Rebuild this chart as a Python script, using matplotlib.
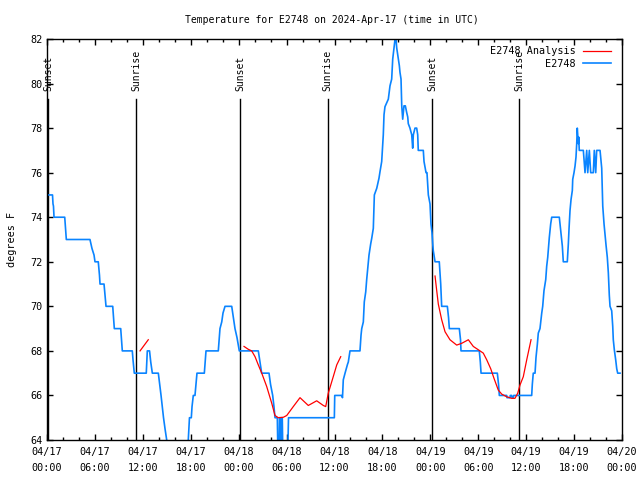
import datetime as dt
import numpy as np
import matplotlib
matplotlib.use("Agg")
import matplotlib.pyplot as plt
import matplotlib.dates as mdates

start = dt.datetime(2024, 4, 17)

# station readings (hours after 04/17 00:00 UTC, degrees F)
obs_hours = [0.13, 0.69, 0.75, 0.81, 0.88, 2.22, 2.32, 2.42, 5.38, 5.51, 5.63, 5.89, 6.01,
             6.42, 6.57, 6.64, 7.14, 7.26, 7.39, 8.23, 8.33, 8.43, 9.23, 9.33, 9.43, 10.68,
             10.77, 10.93, 12.43, 12.56, 12.84, 12.99, 13.19, 13.94, 14.15, 14.28, 14.46,
             14.59, 14.78, 14.99, 15.40, 16.28, 17.16, 17.69, 17.84, 18.07, 18.16, 18.32,
             18.53, 18.78, 19.70, 19.91, 21.45, 21.66, 21.88, 22.04, 22.29, 23.13, 23.33,
             23.54, 23.79, 24.08, 26.46, 26.67, 26.88, 27.80, 27.99, 28.26, 28.42, 28.55,
             28.84, 28.93, 29.05, 29.11, 29.21, 29.30, 29.36, 29.46, 29.55, 30.12, 30.24,
             35.98, 36.03, 36.90, 37.00, 37.10, 37.32, 37.63, 37.73, 37.94, 39.19, 39.32,
             39.41, 39.61, 39.73, 39.91, 40.03, 40.32, 40.53, 40.66, 40.86, 40.99, 41.29,
             41.57, 41.70, 41.91, 42.11, 42.20, 42.32, 42.74, 42.95, 43.16, 43.29, 43.45,
             43.58, 43.70, 43.79, 43.99, 44.12, 44.20, 44.33, 44.42, 44.54, 44.70, 44.87,
             45.04, 45.17, 45.24, 45.45, 45.67, 45.79, 45.87, 46.08, 46.29, 46.42, 46.49,
             47.12, 47.21, 47.46, 47.58, 47.75, 47.96, 48.08, 48.21, 48.30, 48.37, 48.59,
             49.12, 49.30, 49.42, 50.13, 50.28, 50.38, 51.63, 51.78, 51.84, 54.13, 54.26,
             54.35, 56.39, 56.54, 56.64, 57.56, 57.60, 57.98, 58.01, 58.19, 58.23, 58.39,
             58.44, 60.69, 60.77, 60.89, 61.11, 61.23, 61.40, 61.52, 61.73, 61.95, 62.07,
             62.23, 62.45, 62.57, 62.70, 62.90, 63.07, 63.20, 64.15, 64.24, 64.40, 64.53,
             64.65, 65.15, 65.28, 65.37, 65.49, 65.62, 65.78, 65.83, 65.99, 66.12, 66.24,
             66.33, 66.40, 66.53, 66.58, 66.65, 67.16, 67.37, 67.58, 67.71, 67.91, 68.08,
             68.41, 68.53, 68.71, 68.83, 69.25, 69.46, 69.59, 69.75, 70.00, 70.16, 70.29,
             70.41, 70.50, 70.71, 70.84, 70.91, 71.04, 71.21, 71.34, 71.46, 71.75]
obs_temp = [75, 75, 74.6, 74.5, 74, 74, 73.5, 73, 73, 72.8, 72.6, 72.3, 72,
            72, 71.4, 71, 71, 70.5, 70, 70, 69.5, 69, 69, 68.5, 68, 68,
            67.6, 67, 67, 68, 68, 67.5, 67, 67, 66.4, 66, 65.4,
            65, 64.5, 64, 63.4, 63, 63.4, 64, 65, 65, 65.5, 66,
            66, 67, 67, 68, 68, 69, 69.3, 69.7, 70, 70, 69.5,
            69, 68.6, 68, 68, 67.5, 67, 67, 66.5, 66, 65.5, 65,
            65, 63, 63, 65, 65, 63, 65, 65, 63, 63, 65,
            65, 66, 66, 65.9, 66.7, 67, 67.4, 67.5, 68, 68, 68.7,
            69, 69.3, 70.2, 70.65, 71.2, 72.3, 72.8, 73.05, 73.5, 75, 75.3,
            75.75, 76.05, 76.5, 77.7, 78.6, 78.96, 79.3, 79.9, 80.2, 81.1, 81.6,
            82, 82, 81.6, 81.1, 80.8, 80.5, 80.2, 79, 78.4, 79, 79,
            78.7, 78.5, 78.2, 78, 77.7, 77.1, 77.7, 78, 78, 77.7, 77,
            77, 76.5, 76, 76, 75, 74.6, 73.7, 73.3, 72.8, 72.5, 72,
            72, 71, 70, 70, 69.5, 69, 69, 68.5, 68, 68, 67.5,
            67, 67, 66.5, 66, 66, 65.9, 65.9, 66, 66, 65.9, 65.9,
            66, 66, 66.5, 67, 67, 67.7, 68.3, 68.8, 69, 69.7, 70,
            70.7, 71.2, 71.8, 72.2, 73.1, 73.7, 74, 74, 73.7, 73.2, 72.7,
            72, 72, 72.8, 73.5, 74.3, 74.8, 75.2, 75.7, 76, 76.3, 76.7,
            77.3, 78, 77.3, 77.6, 77, 77, 76, 77, 76, 77, 76,
            76, 77, 76, 77, 77, 76.2, 74.5, 73.7, 72.75, 72.2, 71.5,
            70.5, 70, 69.8, 69.1, 68.5, 68.05, 67.6, 67.2, 67, 67]

# analysis curve, three separate pieces (nan = gap)
ana_hours = [11.65, 12.68, np.nan,
             24.67, 25.21, 25.63, 26.05, 26.46, 26.89, 27.51, 28.14, 28.55, 28.96, 29.59,
             30.02, 30.84, 31.68, 32.72, 33.77, 34.60, 34.90, 35.22, 35.85, 36.28, 36.78,
             np.nan,
             48.59, 48.80, 49.00, 49.42, 49.84, 50.46, 51.30, 51.93, 52.76, 53.38, 54.01,
             54.63, 55.06, 55.56, 55.97, 56.51, 56.94, 57.56, 58.19, 58.60, 58.94, 59.23,
             59.64, 60.07, 60.61]
ana_temp = [68.0, 68.5, np.nan,
            68.2, 68.07, 68.0, 67.74, 67.37, 67.0, 66.4, 65.65, 65.1, 65.0, 65.02,
            65.1, 65.5, 65.9, 65.55, 65.76, 65.55, 65.5, 66.1, 66.85, 67.37, 67.74,
            np.nan,
            71.36, 70.7, 70.1, 69.4, 68.86, 68.5, 68.26, 68.34, 68.5, 68.2, 68.05,
            67.9, 67.6, 67.2, 66.77, 66.24, 66.06, 65.94, 65.87, 65.87, 66.1, 66.47,
            66.84, 67.6, 68.5]

sun_hours = [0.13, 11.17, 24.2, 35.15, 48.25, 59.13]
sun_labels = ['Sunset', 'Sunrise', 'Sunset', 'Sunrise', 'Sunset', 'Sunrise']

plt.rcParams['font.family'] = 'DejaVu Sans Mono'
plt.rcParams['font.size'] = 7

fig = plt.figure(figsize=(6.4, 4.8), dpi=100)
ax = fig.add_axes([47 / 640, 40 / 480, 575 / 640, 401 / 480])

obs_t = [start + dt.timedelta(hours=h) for h in obs_hours]
ana_x = [mdates.date2num(start + dt.timedelta(hours=h)) if not np.isnan(h) else np.nan
         for h in ana_hours]

ax.plot(ana_x, ana_temp, color='#ff0000', lw=0.9, label='E2748 Analysis', zorder=3)
ax.plot(obs_t, obs_temp, color='#0a84ff', lw=1.2, label='E2748', zorder=2)

for h, name in zip(sun_hours, sun_labels):
    t = start + dt.timedelta(hours=h)
    ax.axvline(t, ymin=0, ymax=0.85, color='black', lw=1.0, zorder=1)
    ax.text(t, 0.87, name, transform=ax.get_xaxis_transform(), rotation=90,
            ha='center', va='bottom', fontsize=7)

ax.set_xlim(start, start + dt.timedelta(hours=72))
ax.set_ylim(64, 82)
ax.set_yticks(np.arange(64, 83, 2))
ax.xaxis.set_major_locator(mdates.HourLocator(byhour=[0, 6, 12, 18]))
ax.xaxis.set_minor_locator(mdates.HourLocator(interval=2))
ax.xaxis.set_major_formatter(mdates.DateFormatter('%m/%d\n%H:%M'))
ax.tick_params(which='both', direction='in', top=True, right=True, labelsize=7.3)
ax.tick_params(which='major', length=4, width=1)
ax.tick_params(which='minor', length=2.2, width=1)
ax.tick_params(axis='x', pad=5)
for s in ax.spines.values():
    s.set_linewidth(1.0)

ax.set_ylabel('degrees F', fontsize=7.3, labelpad=9)
fig.text(332 / 640, 1 - 20 / 480, 'Temperature for E2748 on 2024-Apr-17 (time in UTC)',
         ha='center', va='center', fontsize=7.0)

ax.legend(loc='upper right', bbox_to_anchor=(0.997, 1.005), frameon=False,
          markerfirst=False, handlelength=2.8, handletextpad=0.7, labelspacing=0.25,
          fontsize=7.3)

fig.canvas.draw()
for lab in ax.get_xticklabels():
    lab.set_linespacing(1.7)

fig.savefig('out.png', dpi=100)
